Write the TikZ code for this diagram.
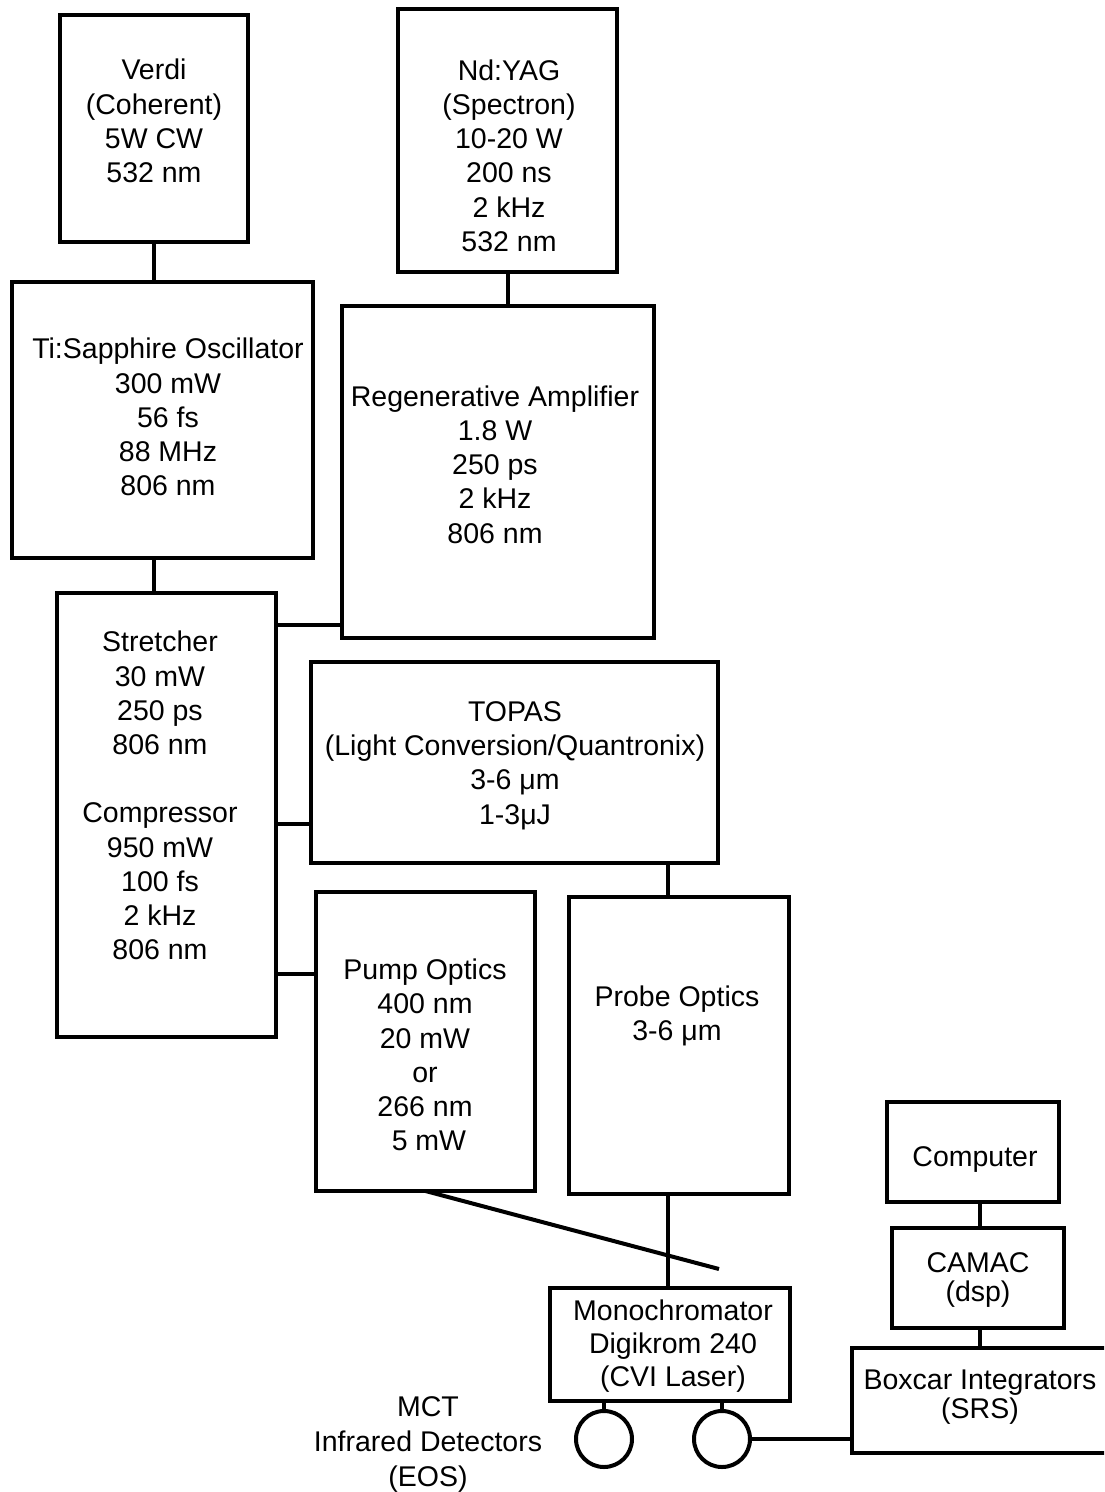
\documentclass[tikz,border=0pt]{standalone}
\usepackage{fontspec}
\setmainfont{Liberation Sans}
\begin{document}
\begin{tikzpicture}[x=1pt,y=-1pt,
  box/.style={draw, line width=4pt, inner sep=0pt, outer sep=0pt},
  det/.style={draw, circle, line width=4pt, inner sep=0pt, outer sep=0pt, minimum size=56pt},
  txt/.style={align=center, inner sep=0pt, font=\fontsize{28.5}{34.2}\selectfont},
  wire/.style={line width=4pt}]
\useasboundingbox (0,0) rectangle (1104,1492);
\clip (0,0) rectangle (1104,1492);

% boxes
\node[box, minimum width=188pt, minimum height=227pt] (verdi) at (154,128.5) {};
\node[box, minimum width=219pt, minimum height=263pt] (ndyag) at (507.5,140.5) {};
\node[box, minimum width=301pt, minimum height=276pt] (tisapph) at (162.5,420) {};
\node[box, minimum width=312pt, minimum height=332pt] (regen) at (498,472) {};
\node[box, minimum width=219pt, minimum height=444pt] (stretcher) at (166.5,815) {};
\node[box, minimum width=407pt, minimum height=201pt] (topas) at (514.5,762.5) {};
\node[box, minimum width=219pt, minimum height=299pt] (pump) at (425.5,1041.5) {};
\node[box, minimum width=220pt, minimum height=297pt] (probe) at (679,1045.5) {};
\node[box, minimum width=172pt, minimum height=100pt] (computer) at (973,1152) {};
\node[box, minimum width=172pt, minimum height=100pt] (camac) at (978,1278) {};
\node[box, minimum width=240pt, minimum height=113pt] (mono) at (670,1344.5) {};
\node[box, minimum width=268pt, minimum height=105pt] (boxcar) at (986,1400.5) {};
\node[det] (det1) at (604,1439) {};
\node[det] (det2) at (722,1439) {};

% texts
\node[txt] (verdi-t) at (154,124.4) {\strut Verdi\\(Coherent)\\5W CW\\532 nm\strut};
\node[txt] (ndyag-t) at (509,158.9) {\strut Nd:YAG\\(Spectron)\\10-20 W\\200 ns\\2 kHz\\532 nm\strut};
\node[txt] (tisapph-t) at (168,420.4) {\strut Ti:Sapphire Oscillator\\300 mW\\56 fs\\88 MHz\\806 nm\strut};
\node[txt] (regen-t) at (495,467.9) {\strut Regenerative Amplifier\\1.8 W\\250 ps\\2 kHz\\806 nm\strut};
\node[txt] (stretcher-t) at (160,798.9) {\strut Stretcher\\30 mW\\250 ps\\806 nm\\\strut\\Compressor\\950 mW\\100 fs\\2 kHz\\806 nm\strut};
\node[txt] (topas-t) at (515,765.9) {\strut TOPAS\\(Light Conversion/Quantronix)\\3-6 μm\\1-3μJ\strut};
\node[txt] (pump-t) at (425,1058.4) {\strut Pump Optics\\400 nm\\20 mW\\or\\266 nm\\~5 mW\strut};
\node[txt] (probe-t) at (677,1016.9) {\strut Probe Optics\\3-6 μm\strut};
\node[txt] (computer-t) at (975,1159.4) {\strut Computer\strut};
\node[txt, font=\fontsize{28.5}{25}\selectfont] (camac-t) at (978,1280.7) {\strut CAMAC\\(dsp)\strut};
\node[txt, font=\fontsize{28.5}{33}\selectfont] (mono-t) at (673,1347.2) {\strut Monochromator\\Digikrom 240\\(CVI Laser)\strut};
\node[txt, font=\fontsize{28.5}{24}\selectfont] (boxcar-t) at (980,1397.4) {\strut Boxcar Integrators\\(SRS)\strut};
\node[txt, font=\fontsize{28.5}{35}\selectfont] (mct-t) at (428,1444.2) {\strut MCT\\Infrared Detectors\\(EOS)\strut};

% helper coordinates
\coordinate (lx) at (154,0);
\coordinate (ya) at (0,625);
\coordinate (yb) at (0,824);
\coordinate (yc) at (0,974);
\coordinate (px) at (668,0);
\coordinate (bx) at (980,0);
\coordinate (slantend) at (719,1269);

% connectors
\draw[wire] (verdi.south) -- (verdi.south |- tisapph.north);
\draw[wire] (ndyag.south) -- (ndyag.south |- regen.north);
\draw[wire] (tisapph.south -| lx) -- (stretcher.north -| lx);
\draw[wire] (stretcher.east |- ya) -- (regen.west |- ya);
\draw[wire] (stretcher.east |- yb) -- (topas.west |- yb);
\draw[wire] (stretcher.east |- yc) -- (pump.west |- yc);
\draw[wire] (topas.south -| px) -- (probe.north -| px);
\draw[wire] (probe.south -| px) -- (mono.north -| px);
\draw[wire] (pump.south) -- (slantend);
\draw[wire] (computer.south -| bx) -- (camac.north -| bx);
\draw[wire] (camac.south -| bx) -- (boxcar.north -| bx);
\draw[wire] (det1.north) -- (det1.north |- mono.south);
\draw[wire] (det2.north) -- (det2.north |- mono.south);
\draw[wire] (det2.east) -- (det2.east -| boxcar.west);
\end{tikzpicture}
\end{document}
